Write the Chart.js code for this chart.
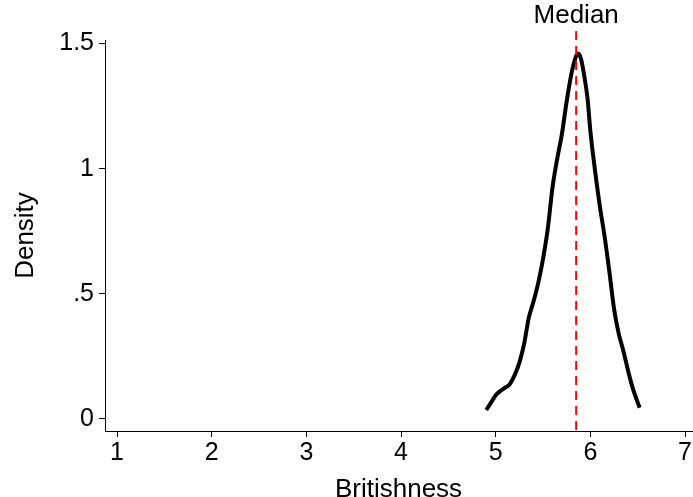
<!DOCTYPE html>
<html>
<head>
<meta charset="utf-8">
<script src="https://cdn.jsdelivr.net/npm/chart.js@4"></script>
<style>
  html, body { margin: 0; padding: 0; background: #fff; }
  #wrap { width: 693px; height: 497px; }
</style>
</head>
<body>
<div id="wrap"><canvas id="densChart" width="693" height="497"></canvas></div>
<script>
// kernel density of Britishness
const britX = [4.90, 4.95, 5.00, 5.05, 5.10, 5.15, 5.20, 5.25, 5.30, 5.35, 5.40, 5.45, 5.50, 5.55, 5.60, 5.65, 5.70, 5.75, 5.80, 5.85, 5.87, 5.90, 5.94, 5.97, 6.00, 6.05, 6.10, 6.15, 6.20, 6.25, 6.30, 6.35, 6.40, 6.45, 6.52];
const densY = [0.036, 0.065, 0.095, 0.112, 0.125, 0.140, 0.175, 0.225, 0.300, 0.405, 0.470, 0.545, 0.640, 0.760, 0.925, 1.040, 1.140, 1.270, 1.380, 1.450, 1.460, 1.440, 1.360, 1.280, 1.150, 0.990, 0.850, 0.730, 0.590, 0.440, 0.340, 0.270, 0.190, 0.120, 0.045];
const medianValue = 5.85;
const xTicks = [1, 2, 3, 4, 5, 6, 7];
const yTicks = [0, 0.5, 1, 1.5];
const yTickLabels = ["0", ".5", "1", "1.5"];

const FONT = "'Liberation Sans', Arial, sans-serif";

// dashed red median line + label
const medianLine = {
  id: "medianLine",
  afterDatasetsDraw(chart) {
    const ctx = chart.ctx;
    const x = chart.scales.x.getPixelForValue(medianValue);
    const bottom = chart.chartArea.bottom;
    ctx.save();
    ctx.strokeStyle = "#ff0000";
    ctx.lineWidth = 2;
    ctx.setLineDash([9, 6]);
    ctx.beginPath();
    ctx.moveTo(x, 31);
    ctx.lineTo(x, bottom);
    ctx.stroke();
    ctx.setLineDash([]);
    ctx.fillStyle = "#000";
    ctx.font = "26px " + FONT;
    ctx.textAlign = "center";
    ctx.textBaseline = "middle";
    ctx.fillText("Median", x, 16);
    ctx.restore();
  }
};

new Chart(document.getElementById("densChart"), {
  type: "line",
  data: {
    datasets: [{
      data: britX.map((v, i) => ({ x: v, y: densY[i] })),
      borderColor: "#000",
      borderWidth: 4,
      pointRadius: 0,
      cubicInterpolationMode: "monotone",
      fill: false
    }]
  },
  options: {
    responsive: false,
    animation: false,
    layout: { padding: { left: 0, right: 0, top: 40, bottom: 0 } },
    plugins: { legend: { display: false }, tooltip: { enabled: false } },
    scales: {
      x: {
        type: "linear",
        min: 0.873,
        max: 7.074,
        afterFit: s => { s.height = 66; },
        afterBuildTicks: s => { s.ticks = xTicks.map(v => ({ value: v })); },
        grid: { drawOnChartArea: false, drawTicks: true, tickLength: 6, color: "#000" },
        border: { display: true, color: "#000", width: 1 },
        ticks: { color: "#000", font: { size: 25, family: FONT }, padding: 1, maxRotation: 0 },
        title: { display: true, text: "Britishness", color: "#000", font: { size: 26, family: FONT }, padding: { top: 0, bottom: -8 } }
      },
      y: {
        min: -0.048,
        max: 1.514,
        afterFit: s => { s.width = 105; },
        afterBuildTicks: s => { s.ticks = yTicks.map(v => ({ value: v })); },
        grid: { drawOnChartArea: false, drawTicks: true, tickLength: 6, color: "#000" },
        border: { display: true, color: "#000", width: 1 },
        ticks: {
          color: "#000", font: { size: 25, family: FONT }, padding: 5,
          callback: v => yTickLabels[yTicks.indexOf(v)]
        },
        title: { display: true, text: "Density", color: "#000", font: { size: 26, family: FONT }, padding: { top: 10, bottom: 0 } }
      }
    }
  },
  plugins: [medianLine]
});
</script>
</body>
</html>
